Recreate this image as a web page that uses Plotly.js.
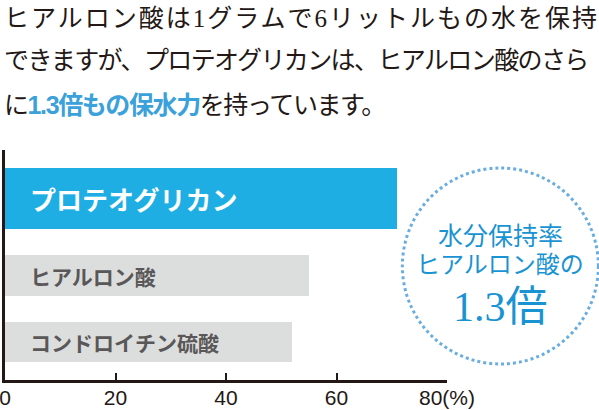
<!DOCTYPE html>
<html>
<head>
<meta charset="utf-8">
<script src="https://cdn.plot.ly/plotly-3.0.1.min.js"></script>
<style>html,body{margin:0;padding:0;background:#fff;}#chart{width:599px;height:410px;}</style>
</head>
<body>
<div id="chart"></div>
<script>
// ---- data ----
var categories = ['プロテオグリカン', 'ヒアルロン酸', 'コンドロイチン硫酸'];
var values = [71, 55, 52];
var tickValues = [0, 20, 40, 60, 80];
var tickLabels = ['0', '20', '40', '60', '80(%)'];
var headLines = [
  'ヒアルロン酸は1グラムで6リットルもの水を保持',
  'できますが、プロテオグリカンは、ヒアルロン酸のさら',
  'に<b><span style="color:#3ba1db;font-family:Liberation Sans,Noto Sans CJK JP">1.3倍もの保水力</span></b>を持っています。'
];
var circleLines = ['水分保持率', 'ヒアルロン酸の', '1.3倍'];

// ---- styles ----
var ink = '#231815';
var barColors = ['#1eaee3', '#dcdddd', '#dcdddd'];
var labelColors = ['#ffffff', '#595757', '#595757'];
var labelSizes = [26, 21, 21];
var barWidths = [0.795, 0.535, 0.522];
var barOffsets = [-0.265, -0.130, -0.257];
var labelShift = [-10, -10.5, -0.3];
var headY = [1.5696, 1.391, 1.1935];
var headSpacing = [2.0, -1.6, -1.4];
var circY = [0.626, 0.5, 0.317];
var circSize = [25, 24, 42];
var serifJP = 'Liberation Serif, Noto Sans CJK JP, serif';
var sansJP = 'Noto Sans CJK JP, Liberation Sans, sans-serif';

var trace = {
  type: 'bar',
  orientation: 'h',
  y: categories,
  x: values,
  width: barWidths,
  offset: barOffsets,
  marker: {color: barColors, line: {width: 0}},
  hoverinfo: 'none'
};

var annotations = [];
categories.forEach(function (c, i) {
  annotations.push({
    xref: 'x', yref: 'y', x: 0, y: c,
    xanchor: 'left', yanchor: 'middle',
    xshift: 23, yshift: labelShift[i],
    text: '<b>' + c + '</b>', showarrow: false,
    font: {family: sansJP, size: labelSizes[i], color: labelColors[i]}
  });
});
var headStart = annotations.length;
headLines.forEach(function (t, i) {
  annotations.push({
    xref: 'paper', yref: 'paper', x: -0.006, y: headY[i],
    xanchor: 'left', yanchor: 'middle',
    text: t, showarrow: false,
    font: {family: serifJP, size: 25, color: ink}
  });
});
circleLines.forEach(function (t, i) {
  annotations.push({
    xref: 'paper', yref: 'paper', x: 1.1207, y: circY[i],
    xanchor: 'center', yanchor: 'middle',
    text: t, showarrow: false,
    font: {family: serifJP, size: circSize[i], color: '#1a93d2'}
  });
});

var layout = {
  width: 599, height: 410,
  margin: {l: 5, r: 152.3, t: 150, b: 30, pad: 0},
  paper_bgcolor: '#ffffff', plot_bgcolor: '#ffffff',
  showlegend: false,
  bargap: 0,
  xaxis: {
    range: [0, 80], fixedrange: true,
    tickmode: 'array', tickvals: tickValues, ticktext: tickLabels,
    ticks: 'inside', ticklen: 7, tickwidth: 2, tickcolor: ink,
    ticklabeloverflow: 'allow', ticklabelstandoff: -3,
    showline: true, linecolor: ink, linewidth: 3,
    showgrid: false, zeroline: false,
    tickfont: {family: 'Liberation Sans, Arial, sans-serif', size: 21, color: ink}
  },
  yaxis: {
    type: 'category', range: [2.5, -0.5], fixedrange: true,
    showticklabels: false, ticks: '',
    showline: true, linecolor: ink, linewidth: 3,
    showgrid: false, zeroline: false
  },
  shapes: [{
    type: 'circle', xref: 'paper', yref: 'paper',
    x0: 0.899, x1: 1.3425, y0: 0.0696, y1: 0.9217,
    line: {color: '#6aaee0', width: 3, dash: '3px,3px'}
  }],
  annotations: annotations
};

Plotly.newPlot('chart', [trace], layout, {displayModeBar: false, staticPlot: true}).then(function (gd) {
  headSpacing.forEach(function (s, i) {
    var t = gd.querySelector('.annotation[data-index="' + (headStart + i) + '"] text.annotation-text');
    if (!t) return;
    var before = t.getBBox().x;
    t.style.letterSpacing = s + 'px';
    var after = t.getBBox().x;
    var x0 = parseFloat(t.getAttribute('x')) || 0;
    t.setAttribute('x', x0 + (before - after));
  });
});
</script>
</body>
</html>
